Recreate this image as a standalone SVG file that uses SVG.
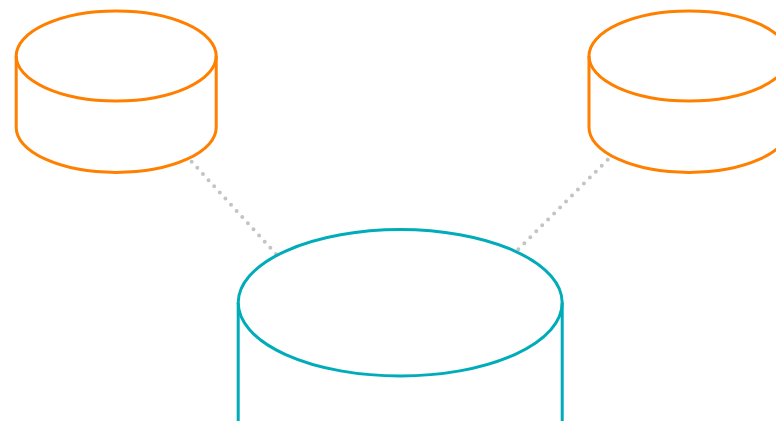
<svg xmlns="http://www.w3.org/2000/svg" width="776" height="421" viewBox="0 0 776 421">
<style>
.bg{fill:#ffffff}
.db{fill:none;stroke-width:3}
.o{stroke:#ff8000}
.t{stroke:#00acb9}
.link{fill:none;stroke:#c4c4c4;stroke-width:4;stroke-linecap:round}
</style>
<rect class="bg" x="0" y="0" width="776" height="421"/>
<g id="connectors">
<path class="link" stroke-dasharray="0 8.33" d="M191.7 161.7L276 254"/>
<path class="link" stroke-dasharray="0 8.43" d="M607.7 159.7L518.3 249.3"/>
</g>
<g id="node-left">
<path class="db o" d="M16.2 56V127.4A100 45 0 0 0 216.2 127.4V56"/>
<ellipse class="db o" cx="116.2" cy="56" rx="100" ry="45"/>
</g>
<g id="node-right">
<path class="db o" d="M589 56V127.4A100 45 0 0 0 789 127.4V56"/>
<ellipse class="db o" cx="689" cy="56" rx="100" ry="45"/>
</g>
<g id="node-bottom">
<path class="db t" d="M238.2 302.8V421M562.2 302.8V421"/>
<ellipse class="db t" cx="400.2" cy="302.8" rx="162" ry="73.2"/>
</g>
</svg>
